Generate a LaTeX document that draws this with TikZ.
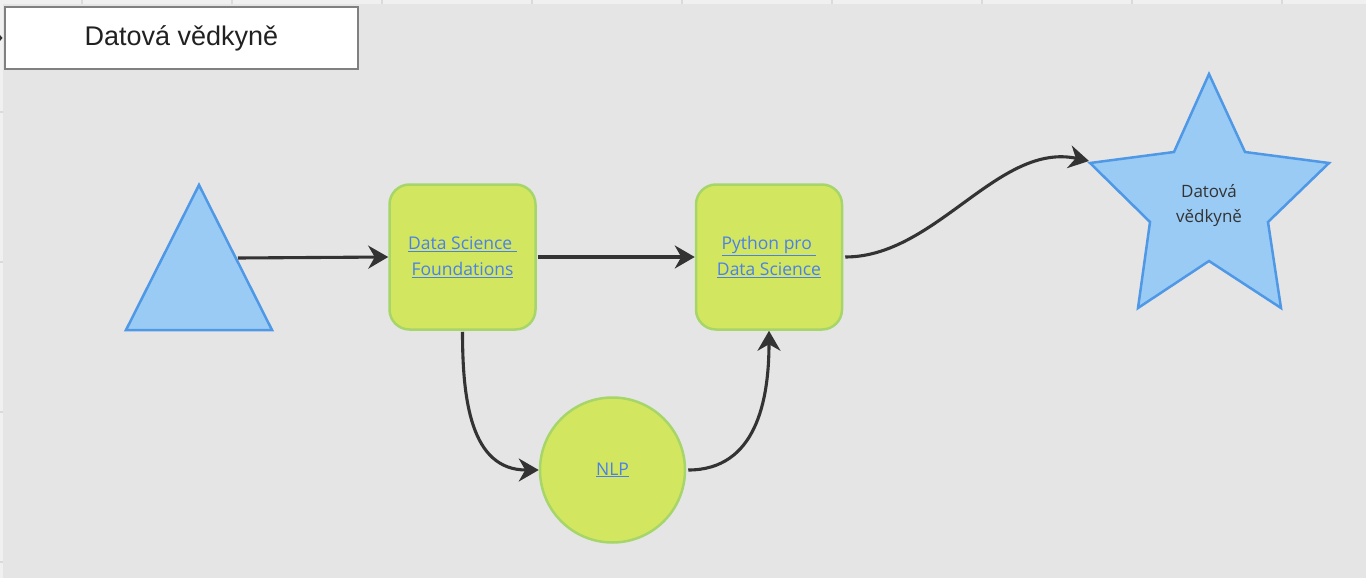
\documentclass[tikz,border=0pt]{standalone}
\usepackage{fontspec}
\setmainfont{Open Sans}
\newfontfamily\titlefont{Liberation Sans}
\usetikzlibrary{arrows.meta}
\definecolor{bg}{HTML}{E5E5E5}
\definecolor{ruler}{HTML}{F0F0F0}
\definecolor{rulerline}{HTML}{DADADA}
\definecolor{titlegray}{HTML}{808080}
\definecolor{gfill}{HTML}{D3E660}
\definecolor{gborder}{HTML}{A6D66A}
\definecolor{bfill}{HTML}{99CBF5}
\definecolor{bborder}{HTML}{4F98E6}
\definecolor{linkblue}{HTML}{4A80E8}
\definecolor{dark}{HTML}{333333}
\tikzset{
  gbox/.style={draw=gborder, fill=gfill, line width=2.5pt, rounded corners=20pt,
    minimum width=146pt, minimum height=145pt, inner sep=0pt, align=center,
    text=linkblue, font=\fontsize{17.5}{26}\selectfont},
  gcirc/.style={draw=gborder, fill=gfill, line width=2.5pt, circle,
    minimum size=145pt, inner sep=0pt, text=linkblue, font=\fontsize{17.5}{26}\selectfont},
  conn/.style={draw=dark, line width=3.1pt, -{Stealth[length=20pt,width=23pt,inset=6.5pt]}},
  blueshape/.style={draw=bborder, fill=bfill, line width=2.5pt, line join=miter}
}
\begin{document}
\begin{tikzpicture}[x=1pt,y=-1pt]
\useasboundingbox (0,0) rectangle (1366,578);
\fill[bg] (0,0) rectangle (1366,578);
\fill[ruler] (0,0) rectangle (1366,4);
\fill[ruler] (0,0) rectangle (3,578);
\foreach \x in {82,232,...,1282} \draw[rulerline, line width=1.2pt] (\x,0) -- (\x,4);
\foreach \y in {112,262,412,562} \draw[rulerline, line width=1.2pt] (0,\y) -- (3,\y);

% title
\node[draw=titlegray, line width=2.5pt, fill=white, minimum width=353pt, minimum height=62pt,
  inner sep=0pt, text=black!87, font=\titlefont\fontsize{27}{30}\selectfont] (title) at (181.5,38) {Datová vědkyně};
\coordinate (tmark) at (0,38);
\fill[dark] (0,35) -- (2.5,38) -- (0,41) -- cycle;

% triangle
\draw[blueshape] (199,185) -- (272,330) -- (126,330) -- cycle;
\coordinate (triR) at (238,258);

% boxes
\node[gbox] (dsf) at (462.5,257) {\underline{Data Science\ }\\\underline{Foundations}};
\node[gbox] (pds) at (769,257) {\underline{Python pro\ }\\\underline{Data Science}};
\node[gcirc] (nlp) at (612.5,470) {\underline{NLP}};

% star
\draw[blueshape] (1209,74) -- (1245,152) -- (1329,163) -- (1268,222) -- (1281,308)
  -- (1209,261) -- (1138,308) -- (1150,222) -- (1090,163) -- (1174,152) -- cycle;
\node[text=dark, align=center, font=\fontsize{17}{25}\selectfont] (star) at (1209,206) {Datová\\vědkyně};
\coordinate (starL) at (1089,161);

% connectors
\draw[conn] (triR) -- (dsf.west);
\draw[conn, shorten <=1pt] (dsf.east) -- (pds.west);
\draw[conn, shorten <=2pt] (pds.east) to[out=0, in=168, looseness=0.9] (starL);
\draw[conn, shorten <=1pt] (dsf.south) to[out=-90, in=180, looseness=1.1] (nlp.west);
\draw[conn, shorten <=2pt] (nlp.east) to[out=0, in=-90, looseness=1.1] (pds.south);
\end{tikzpicture}
\end{document}
